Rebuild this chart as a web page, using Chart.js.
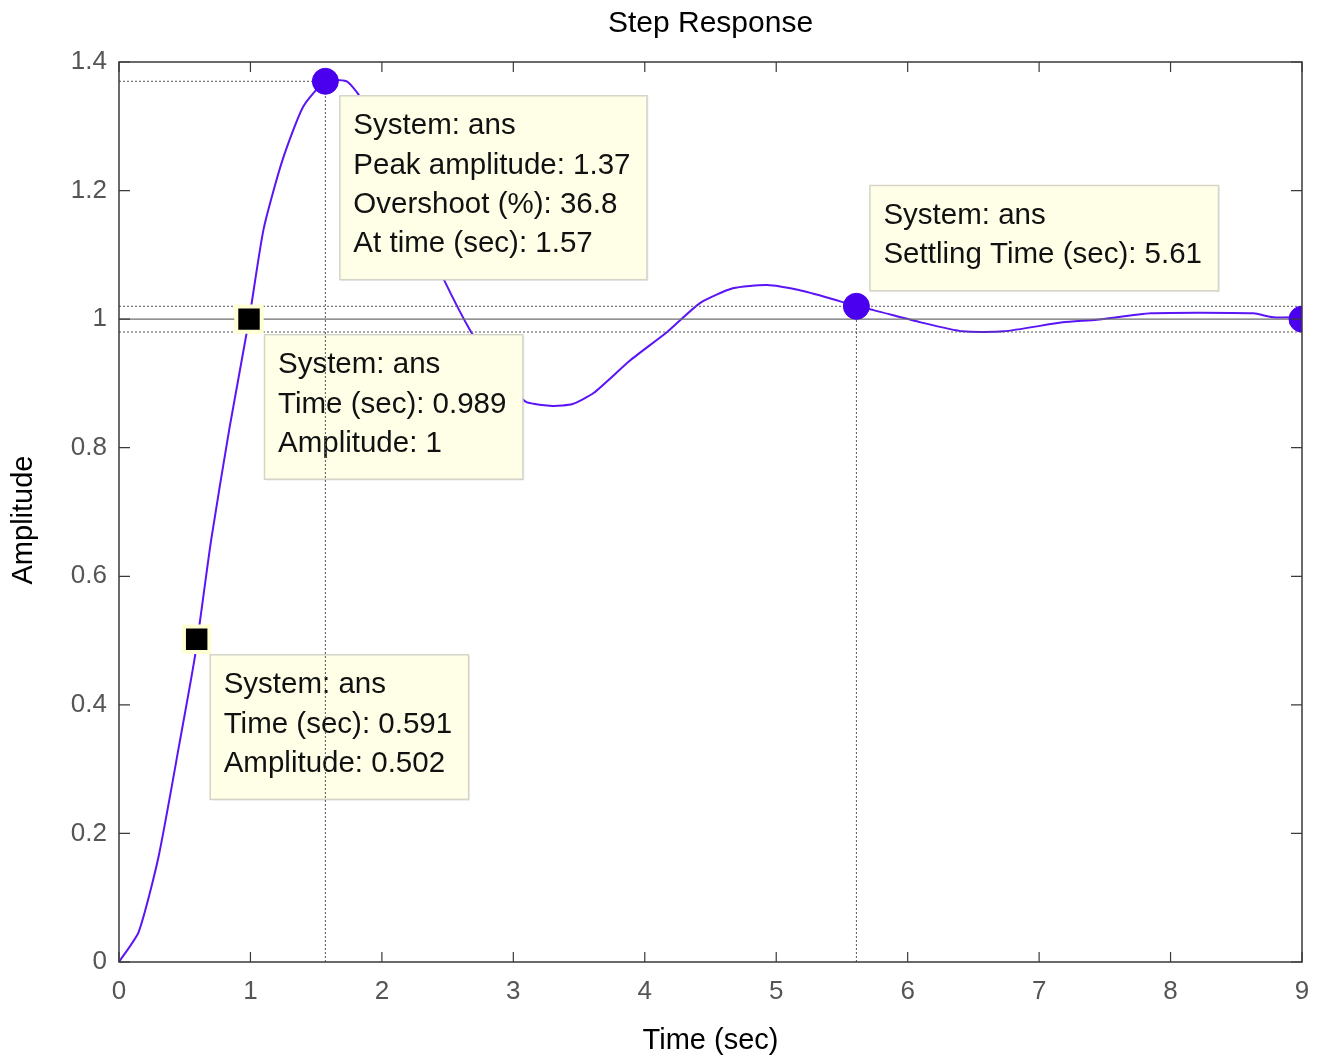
<!DOCTYPE html>
<html>
<head>
<meta charset="utf-8">
<title>Step Response</title>
<script src="https://cdn.jsdelivr.net/npm/chart.js@4"></script>
<style>
  html, body { margin: 0; padding: 0; background: #fff; }
  #wrap { width: 1327px; height: 1062px; position: relative; }
</style>
</head>
<body>
<div id="wrap"><canvas id="step-chart"></canvas></div>
<script>
// ---- Data ----
const timeSec = [0, 0.15, 0.30, 0.46, 0.58, 0.70, 0.84, 0.99, 1.10, 1.24, 1.40, 1.57, 1.73, 1.82,
  2.0, 2.2, 2.48, 2.67, 2.85, 3.0, 3.10, 3.30, 3.45, 3.61, 3.89, 4.17, 4.42, 4.67, 4.93, 5.18,
  5.40, 5.61, 5.74, 6.10, 6.42, 6.73, 7.18, 7.44, 7.85, 8.63, 8.78, 9.0];
const amplitude = [0, 0.047, 0.163, 0.34, 0.478, 0.655, 0.83, 1.0, 1.14, 1.245, 1.33, 1.37, 1.37, 1.35,
  1.28, 1.18, 1.058, 0.983, 0.925, 0.89, 0.871, 0.865, 0.868, 0.885, 0.936, 0.98, 1.025, 1.048, 1.053, 1.045,
  1.033, 1.02, 1.014, 0.995, 0.981, 0.981, 0.995, 0.999, 1.009, 1.009, 1.003, 1.003];

const xTicks = [0, 1, 2, 3, 4, 5, 6, 7, 8, 9];
const yTicks = [0, 0.2, 0.4, 0.6, 0.8, 1, 1.2, 1.4];

const peakPoint = { x: 1.57, y: 1.37 };
const settlePoint = { x: 5.61, y: 1.02 };
const finalPoint = { x: 9, y: 1.0 };
const riseMarks = [{ x: 0.591, y: 0.502 }, { x: 0.989, y: 1.0 }];
const settleBand = [0.98, 1.02];

// data tips: anchor point, pixel offset, lines
const dataTips = [
  { at: peakPoint, dx: 14, dy: 14, up: false,
    lines: ['System: ans', 'Peak amplitude: 1.37', 'Overshoot (%): 36.8', 'At time (sec): 1.57'] },
  { at: settlePoint, dx: 13, dy: -16, up: true,
    lines: ['System: ans', 'Settling Time (sec): 5.61'] },
  { at: riseMarks[1], dx: 15, dy: 15, up: false,
    lines: ['System: ans', 'Time (sec): 0.989', 'Amplitude: 1'] },
  { at: riseMarks[0], dx: 13, dy: 15, up: false,
    lines: ['System: ans', 'Time (sec): 0.591', 'Amplitude: 0.502'] },
];

const FONT = '"Liberation Sans", Arial, Helvetica, sans-serif';
const LINE_COLOR = '#5b14f5';
const MARK_COLOR = '#4a00ee';

// ---- Plugins ----
const matlabAxes = {
  id: 'matlabAxes',
  afterDatasetDraw(chart, args) {
    if (args.meta.label !== 'response') return;
    // data tip boxes drawn over the curve
    const { ctx, scales: { x, y } } = chart;
    ctx.save();
    ctx.font = `29.5px ${FONT}`;
    ctx.textBaseline = 'middle';
    dataTips.forEach(tip => {
      const px = x.getPixelForValue(tip.at.x);
      const py = y.getPixelForValue(tip.at.y);
      const w = Math.max(...tip.lines.map(l => ctx.measureText(l).width)) + 30;
      const h = 30 + (tip.lines.length - 1) * 39.3 + 36;
      const left = px + tip.dx;
      const top = tip.up ? py + tip.dy - h : py + tip.dy;
      ctx.fillStyle = 'rgba(0,0,0,0.06)';
      ctx.fillRect(left + 2, top + 2, w, h);
      ctx.fillStyle = '#ffffe8';
      ctx.fillRect(left, top, w, h);
      ctx.strokeStyle = '#d4d4c8';
      ctx.lineWidth = 1.5;
      ctx.strokeRect(left + 0.5, top + 0.5, w, h);
      ctx.fillStyle = '#111';
      tip.lines.forEach((l, i) => ctx.fillText(l, left + 14, top + 31 + i * 39.3));
    });
    ctx.restore();
  },
  afterDraw(chart) {
    const { ctx, chartArea: a, scales: { x, y } } = chart;
    ctx.save();
    ctx.strokeStyle = '#3a3a3a';
    ctx.lineWidth = 1.5;
    ctx.strokeRect(a.left, a.top, a.right - a.left, a.bottom - a.top);
    // inward ticks on all four sides
    ctx.lineWidth = 1.2;
    ctx.beginPath();
    xTicks.forEach(v => {
      const p = x.getPixelForValue(v);
      ctx.moveTo(p, a.bottom); ctx.lineTo(p, a.bottom - 10);
      ctx.moveTo(p, a.top); ctx.lineTo(p, a.top + 10);
    });
    yTicks.forEach(v => {
      const p = y.getPixelForValue(v);
      ctx.moveTo(a.left, p); ctx.lineTo(a.left + 11, p);
      ctx.moveTo(a.right, p); ctx.lineTo(a.right - 11, p);
    });
    ctx.stroke();

    // titles
    ctx.fillStyle = '#000';
    ctx.textAlign = 'center';
    ctx.textBaseline = 'middle';
    ctx.font = `30px ${FONT}`;
    ctx.fillText('Step Response', (a.left + a.right) / 2, 24);
    ctx.font = `29px ${FONT}`;
    ctx.fillText('Time (sec)', (a.left + a.right) / 2, 1041);
    ctx.translate(24, (a.top + a.bottom) / 2 + 8);
    ctx.rotate(-Math.PI / 2);
    ctx.fillText('Amplitude', 0, 0);
    ctx.restore();
  }
};

const dotted = { borderColor: '#555', borderWidth: 1, borderDash: [2, 2], pointRadius: 0, fill: false, order: 3 };

new Chart(document.getElementById('step-chart'), {
  type: 'line',
  data: {
    datasets: [
      {
        label: 'markers', data: [peakPoint, settlePoint, finalPoint],
        showLine: false, pointRadius: 13, pointHoverRadius: 13,
        pointBackgroundColor: MARK_COLOR, pointBorderColor: MARK_COLOR, order: 1
      },
      {
        label: 'rise', data: riseMarks, showLine: false, pointStyle: 'rect',
        pointRadius: 18, pointHoverRadius: 18, pointBackgroundColor: '#000',
        pointBorderColor: '#ffffd4', pointBorderWidth: 4, order: 1
      },
      { label: 'final', data: [{ x: 0, y: finalPoint.y }, { x: 9, y: finalPoint.y }],
        borderColor: '#6e6e6e', borderWidth: 1.2, pointRadius: 0, order: 3 },
      { label: 'bandHi', data: [{ x: 0, y: settleBand[1] }, { x: 9, y: settleBand[1] }], ...dotted },
      { label: 'bandLo', data: [{ x: 0, y: settleBand[0] }, { x: 9, y: settleBand[0] }], ...dotted },
      { label: 'peakH', data: [{ x: 0, y: peakPoint.y }, peakPoint], ...dotted },
      { label: 'peakV', data: [{ x: peakPoint.x, y: 0 }, peakPoint], ...dotted },
      { label: 'settleV', data: [{ x: settlePoint.x, y: 0 }, settlePoint], ...dotted },
      {
        label: 'response',
        data: timeSec.map((t, i) => ({ x: t, y: amplitude[i] })),
        borderColor: LINE_COLOR, borderWidth: 2, pointRadius: 0, tension: 0.2, fill: false, order: 5
      }
    ]
  },
  options: {
    responsive: true,
    maintainAspectRatio: false,
    animation: false,
    events: [],
    layout: { padding: { top: 62, right: 25, left: 0, bottom: 0 } },
    plugins: { legend: { display: false }, tooltip: { enabled: false }, title: { display: false } },
    scales: {
      x: {
        type: 'linear', min: 0, max: 9,
        afterBuildTicks: s => { s.ticks = xTicks.map(v => ({ value: v })); },
        afterFit: s => { s.height = 100; },
        grid: { display: false, drawTicks: false },
        border: { display: false },
        ticks: { color: '#555', padding: 14, font: { family: FONT, size: 26 }, callback: v => String(v) }
      },
      y: {
        type: 'linear', min: 0, max: 1.4,
        afterBuildTicks: s => { s.ticks = yTicks.map(v => ({ value: v })); },
        afterFit: s => { s.width = 119; },
        grid: { display: false, drawTicks: false },
        border: { display: false },
        ticks: { color: '#555', padding: 12, font: { family: FONT, size: 26 }, callback: v => String(v) }
      }
    }
  },
  plugins: [matlabAxes]
});
</script>
</body>
</html>
